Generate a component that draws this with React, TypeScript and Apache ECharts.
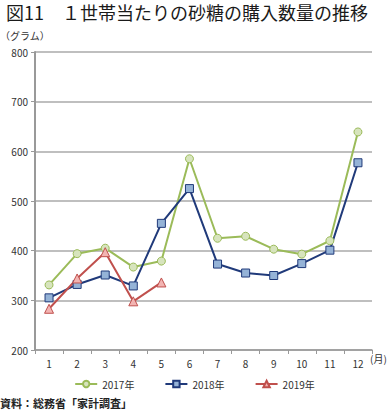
import React, { useEffect, useRef } from "react";
import * as echarts from "echarts";

const months = ["1", "2", "3", "4", "5", "6", "7", "8", "9", "10", "11", "12"];
const s2017 = [331, 394, 405, 367, 379, 585, 425, 429, 403, 393, 420, 639];
const s2018 = [305, 332, 351, 329, 455, 525, 373, 355, 350, 374, 401, 577];
const s2019 = [283, 344, 397, 298, 336];
const seriesNames = ["2017年", "2018年", "2019年"];

export default function App() {
  const ref = useRef<HTMLDivElement>(null);
  useEffect(() => {
    const chart = echarts.init(ref.current!, null, { renderer: "svg" });
    const font = "'Noto Sans CJK JP', 'Noto Sans', sans-serif";
    chart.setOption({
      animation: false,
      textStyle: { fontFamily: font },
      graphic: [
        { type: "text", left: 6, top: 3, style: { text: "図11　１世帯当たりの砂糖の購入数量の推移", fontSize: 18, fontWeight: "normal", fill: "#1a1a1a", fontFamily: font } },
        { type: "text", left: 0, top: 30, style: { text: "（グラム）", fontSize: 10, fill: "#333", fontFamily: font } },
        { type: "text", left: 370, top: 353, style: { text: "(月)", fontSize: 10, fill: "#333", fontFamily: font } },
        { type: "text", left: 0, top: 397, style: { text: "資料：総務省「家計調査」", fontSize: 11, fontWeight: "bold", fill: "#222", fontFamily: font } },
      ],
      legend: {
        bottom: 20,
        left: "center",
        itemGap: 30,
        itemWidth: 22,
        itemHeight: 8,
        textStyle: { fontSize: 10, color: "#333", fontFamily: font },
        data: seriesNames,
      },
      grid: { left: 35, right: 17, top: 52, bottom: 64 },
      xAxis: {
        type: "category",
        data: months,
        boundaryGap: true,
        axisLine: { lineStyle: { color: "#999", width: 1.5 } },
        axisTick: { show: true, length: 4, lineStyle: { color: "#999" } },
        axisLabel: { fontSize: 10, color: "#333", margin: 8 },
      },
      yAxis: {
        type: "value",
        min: 200,
        max: 800,
        interval: 100,
        axisLine: { show: true, lineStyle: { color: "#999", width: 2 } },
        axisTick: { show: true, length: 4, lineStyle: { color: "#999" } },
        axisLabel: { fontSize: 10, color: "#333", margin: 7 },
        splitLine: { lineStyle: { color: "#aaa", width: 1.5 } },
      },
      series: [
        {
          name: seriesNames[0],
          type: "line",
          data: s2017,
          symbol: "circle",
          symbolSize: 8,
          lineStyle: { color: "#9BBB59", width: 2 },
          itemStyle: { color: "#D7E4BD", borderColor: "#9BBB59", borderWidth: 1 },
        },
        {
          name: seriesNames[1],
          type: "line",
          data: s2018,
          symbol: "rect",
          symbolSize: 8,
          lineStyle: { color: "#203A7A", width: 2 },
          itemStyle: { color: "#95B3D7", borderColor: "#203A7A", borderWidth: 1 },
        },
        {
          name: seriesNames[2],
          type: "line",
          data: s2019,
          symbol: "triangle",
          symbolSize: 9,
          lineStyle: { color: "#C0504D", width: 2 },
          itemStyle: { color: "#F2B4B2", borderColor: "#C0504D", borderWidth: 1 },
        },
      ],
    });
    return () => chart.dispose();
  }, []);
  return <div ref={ref} style={{ width: 389, height: 414, position: "absolute", left: 0, top: 0 }} />;
}
